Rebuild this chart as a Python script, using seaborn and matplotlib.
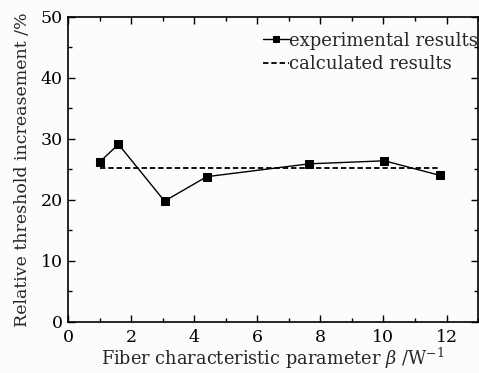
import numpy as np
import pandas as pd
import matplotlib
matplotlib.use("Agg")
import matplotlib.pyplot as plt
from matplotlib.ticker import MultipleLocator
import seaborn as sns

# data
beta = [1.0, 1.6, 3.06, 4.4, 7.64, 10.03, 11.8]
increase = [26.2, 29.1, 19.8, 23.8, 25.9, 26.4, 24.0]
calc_x = [1.0, 11.8]
calc_y = [25.3, 25.3]

sns.set_theme(style="ticks")
plt.rcParams['font.family'] = ['DejaVu Serif']
plt.rcParams['mathtext.fontset'] = 'dejavuserif'

fig, ax = plt.subplots(figsize=(4.79, 3.73), dpi=100)
fig.patch.set_facecolor('#fcfcfc')
ax.set_facecolor('#fcfcfc')

df = pd.DataFrame({'beta': beta, 'inc': increase})
sns.lineplot(data=df, x='beta', y='inc', ax=ax, color='black', lw=1.0,
             marker='s', markersize=6, markeredgecolor='black',
             label='experimental results')
sns.lineplot(x=calc_x, y=calc_y, ax=ax, color='black', lw=1.3,
             linestyle=(0, (3, 1.6)), label='calculated results')

ax.set_xlim(0, 13)
ax.set_ylim(0, 50)
ax.xaxis.set_major_locator(MultipleLocator(2))
ax.xaxis.set_minor_locator(MultipleLocator(1))
ax.yaxis.set_major_locator(MultipleLocator(10))
ax.yaxis.set_minor_locator(MultipleLocator(5))
ax.tick_params(which='both', direction='in', top=True, right=True,
               labelsize=12.5, colors='black')
ax.tick_params(which='major', length=5, width=1)
ax.tick_params(axis='x', which='major', pad=5)
ax.tick_params(axis='y', which='major', pad=4)
ax.tick_params(which='minor', length=3, width=1)
for s in ax.spines.values():
    s.set_linewidth(1.2)
    s.set_color('black')

ax.set_xlabel(r'Fiber characteristic parameter $\beta$ /W$^{-1}$', fontsize=12.8, labelpad=0)
ax.set_ylabel('Relative threshold increasement /%', fontsize=12.5, labelpad=7)

leg = ax.legend(loc='upper right', bbox_to_anchor=(1.027, 0.987), frameon=False,
                fontsize=13, handlelength=1.4, handletextpad=0.05,
                borderaxespad=0.0, borderpad=0.6, labelspacing=0.3,
                markerscale=0.75)

fig.subplots_adjust(left=0.142, right=0.998, top=0.955, bottom=0.137)
fig.savefig('out.png', dpi=100, facecolor=fig.get_facecolor())
